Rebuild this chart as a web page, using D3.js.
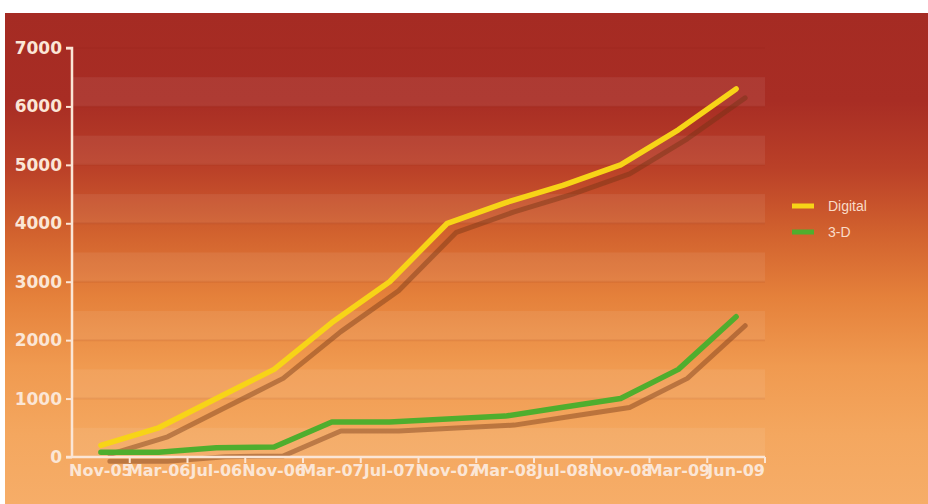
<!DOCTYPE html>
<html>
<head>
<meta charset="utf-8">
<script src="https://cdn.jsdelivr.net/npm/d3@7"></script>
<style>
html,body{margin:0;padding:0;background:#fff;}
svg{display:block;}
</style>
</head>
<body>
<svg id="chart" width="928" height="504"></svg>
<script>
const categories = ["Nov-05","Mar-06","Jul-06","Nov-06","Mar-07","Jul-07","Nov-07","Mar-08","Jul-08","Nov-08","Mar-09","Jun-09"];
const digital = [200, 500, 1000, 1500, 2300, 3000, 4000, 4350, 4650, 5000, 5600, 6300];
const threeD = [80, 80, 160, 170, 600, 600, 650, 700, 850, 1000, 1500, 2400];
const yTicks = [0, 1000, 2000, 3000, 4000, 5000, 6000, 7000];
const seriesNames = ["Digital", "3-D"];

(function(){
const svg = d3.select("#chart");
const W = 928, H = 504;
const pLeft = 72, pRight = 765, pTop = 48, pBottom = 457;

const defs = svg.append("defs");
const bg = defs.append("linearGradient").attr("id","bg").attr("x1",0).attr("y1",0).attr("x2",0).attr("y2",1);
[[0,"#a52b23"],[0.18,"#a82d24"],[0.32,"#bb4128"],[0.45,"#d2622e"],[0.58,"#e5813b"],[0.72,"#f09a50"],[0.86,"#f4a75f"],[1,"#f6ad68"]]
  .forEach(([o,c]) => bg.append("stop").attr("offset",o).attr("stop-color",c));

svg.append("rect").attr("x",5).attr("y",13).attr("width",W-5).attr("height",H-13).attr("fill","url(#bg)");

const x = d3.scaleBand().domain(categories).range([pLeft, pRight]).padding(0);
const y = d3.scaleLinear().domain([0, 7000]).range([pBottom, pTop]);
const cx = d => x(d) + x.bandwidth()/2;

// stripes
const g = svg.append("g");
yTicks.slice(0, -1).forEach(v => {
  g.append("rect").attr("x", pLeft).attr("width", pRight - pLeft)
    .attr("y", y(v + 500)).attr("height", y(v) - y(v + 500))
    .attr("fill", "#ffffff").attr("opacity", 0.07);
});
yTicks.slice(1).forEach(v => {
  g.append("line").attr("x1", pLeft).attr("x2", pRight).attr("y1", y(v)).attr("y2", y(v))
    .attr("stroke", "#7a1a10").attr("stroke-opacity", 0.08).attr("stroke-width", 2);
});

const line = d3.line().x((d,i) => cx(categories[i])).y(d => y(d));

const series = [
  {name: seriesNames[0], values: digital, color: "#f7d417"},
  {name: seriesNames[1], values: threeD, color: "#4fae2e"}
];

// shadows
series.forEach(s => {
  svg.append("path").attr("d", line(s.values)).attr("transform", "translate(9,9)")
    .attr("fill","none").attr("stroke","rgb(110,50,20)").attr("stroke-opacity",0.42)
    .attr("stroke-width",5).attr("stroke-linecap","round").attr("stroke-linejoin","round");
});

// axes
const axisColor = "#fbe6d6";
const yAxis = svg.append("g").attr("transform", `translate(${pLeft},0)`)
  .call(d3.axisLeft(y).tickValues(yTicks).tickSize(6).tickPadding(4).tickFormat(d3.format("d")));
yAxis.select(".domain").attr("stroke", axisColor).attr("stroke-width", 2.5).attr("d", `M-6,${pTop}H0V${pBottom}`);
yAxis.selectAll(".tick line").attr("stroke", axisColor).attr("stroke-width", 2);
yAxis.selectAll(".tick text").attr("fill", axisColor)
  .style("font-family","'DejaVu Sans', sans-serif").style("font-weight","bold").style("font-size","17px");

const xAxis = svg.append("g").attr("transform", `translate(0,${pBottom})`)
  .call(d3.axisBottom(x).tickSize(0).tickPadding(8));
xAxis.select(".domain").attr("stroke", axisColor).attr("stroke-width", 2.5).attr("d", `M${pLeft-6},0H${pRight}`);
xAxis.selectAll(".tick text").attr("fill", axisColor)
  .style("font-family","'DejaVu Sans', sans-serif").style("font-weight","bold").style("font-size","16px");
const bounds = categories.map(c => x(c)).concat([pRight]);
xAxis.selectAll(".bt").data(bounds.slice(1)).enter().append("line").attr("class","bt")
  .attr("x1", d => d).attr("x2", d => d).attr("y1", 0).attr("y2", 6)
  .attr("stroke", axisColor).attr("stroke-width", 2);

// main lines
series.forEach(s => {
  svg.append("path").attr("d", line(s.values))
    .attr("fill","none").attr("stroke",s.color)
    .attr("stroke-width",5.5).attr("stroke-linecap","round").attr("stroke-linejoin","round");
});

// legend
const lg = svg.append("g");
series.forEach((s, i) => {
  const ly = 206 + i * 26;
  lg.append("line").attr("x1", 792).attr("x2", 814).attr("y1", ly).attr("y2", ly)
    .attr("stroke", s.color).attr("stroke-width", 5);
  lg.append("text").attr("x", 828).attr("y", ly).attr("dy", "0.35em")
    .attr("fill", "#f9dcc8").style("font-family","'Liberation Sans', Arial, sans-serif")
    .style("font-size","14px").text(s.name);
});
})();
</script>
</body>
</html>
